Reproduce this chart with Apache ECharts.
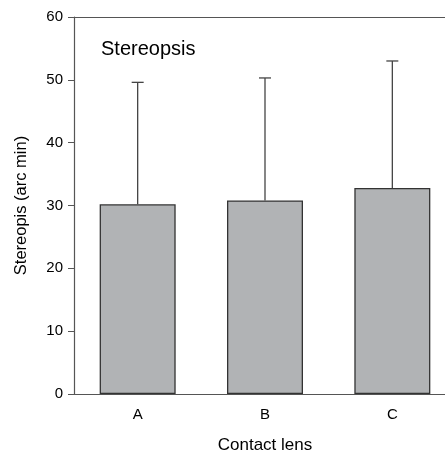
<!DOCTYPE html>
<html>
<head>
<meta charset="utf-8">
<script src="https://cdn.jsdelivr.net/npm/echarts@6/dist/echarts.min.js"></script>
<style>html,body{margin:0;padding:0;background:#fff;}#c{width:445px;height:455px;}</style>
</head>
<body>
<div id="c"></div>
<script>
var categories = ['A', 'B', 'C'];
var means = [30.2, 30.8, 32.8];
var upperErr = [49.6, 50.3, 53.0];
var yTicks = [0, 10, 20, 30, 40, 50, 60];

var chart = echarts.init(document.getElementById('c'), null, {renderer: 'canvas'});
var font = 'Arial, "Liberation Sans", sans-serif';
var errData = categories.map(function (c, i) { return [i, means[i], upperErr[i]]; });

chart.setOption({
  animation: false,
  backgroundColor: '#fff',
  title: {
    text: 'Stereopsis', left: 96, top: 34,
    textStyle: {fontFamily: font, fontSize: 20, fontWeight: 'normal', color: '#000'}
  },
  grid: {left: 74, top: 17, width: 382, height: 377, containLabel: false, outerBoundsMode: 'none'},
  xAxis: [{
    type: 'category', data: categories,
    name: 'Contact lens', nameLocation: 'middle', nameGap: 43,
    nameTextStyle: {fontFamily: font, fontSize: 17, color: '#000'},
    axisLine: {lineStyle: {color: '#555', width: 1.2}},
    axisTick: {alignWithLabel: true, length: 5, lineStyle: {color: '#555'}},
    axisLabel: {fontFamily: font, fontSize: 15, color: '#000', margin: 13}
  }, {
    type: 'category', data: categories, position: 'top',
    axisLine: {lineStyle: {color: '#555', width: 1.2}},
    axisTick: {show: false}, axisLabel: {show: false}
  }],
  yAxis: {
    type: 'value', min: yTicks[0], max: yTicks[yTicks.length - 1], interval: 10,
    name: 'Stereopis (arc min)', nameLocation: 'middle', nameGap: 44,
    nameTextStyle: {fontFamily: font, fontSize: 16.5, color: '#000'},
    axisLine: {show: true, lineStyle: {color: '#555', width: 1.2}},
    axisTick: {show: true, length: 6, lineStyle: {color: '#555'}},
    axisLabel: {fontFamily: font, fontSize: 15, color: '#000', margin: 11},
    splitLine: {show: false}
  },
  series: [{
    type: 'bar', data: means, barWidth: 76,
    itemStyle: {color: '#b1b3b5', borderColor: '#333', borderWidth: 1.3}
  }, {
    type: 'custom', data: errData, z: 1,
    renderItem: function (params, api) {
      var x = api.value(0);
      var p0 = api.coord([x, api.value(1)]);
      var p1 = api.coord([x, api.value(2)]);
      var cap = 6;
      var st = {stroke: '#444', lineWidth: 1.3};
      return {
        type: 'group', children: [
          {type: 'line', shape: {x1: p0[0], y1: p0[1], x2: p1[0], y2: p1[1]}, style: st},
          {type: 'line', shape: {x1: p1[0] - cap, y1: p1[1], x2: p1[0] + cap, y2: p1[1]}, style: st}
        ]
      };
    }
  }]
});
</script>
</body>
</html>
